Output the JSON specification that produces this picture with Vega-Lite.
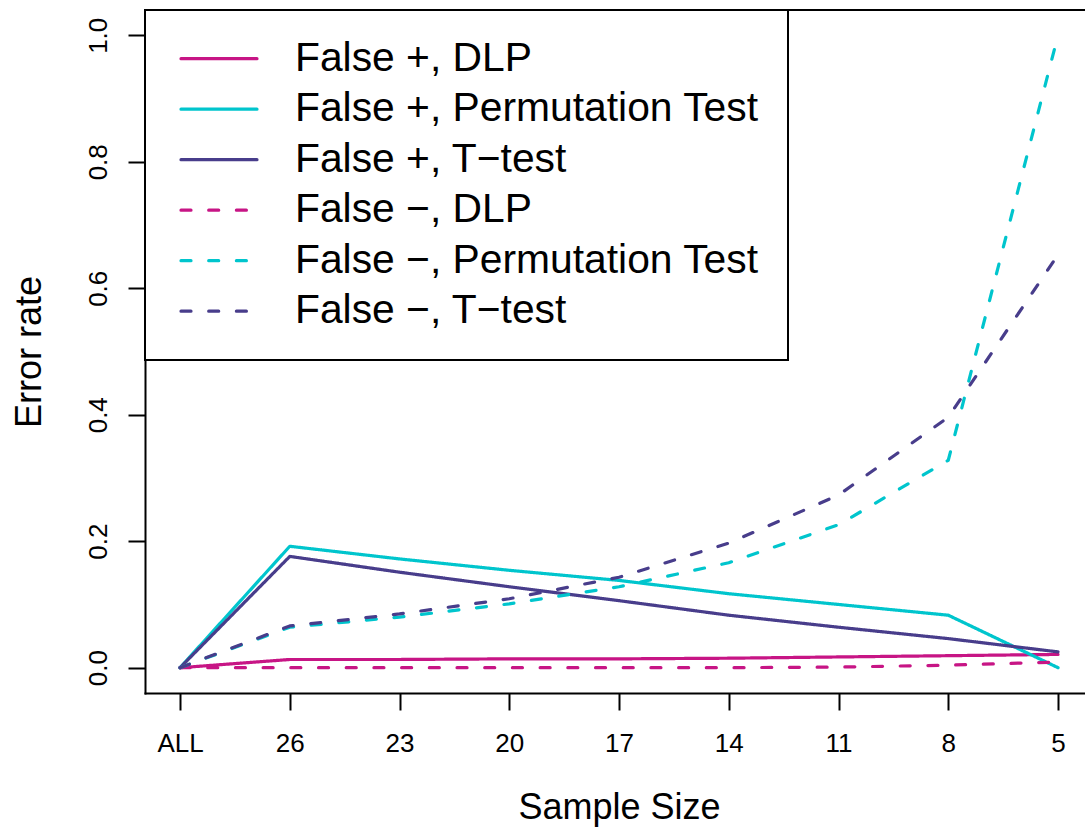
{
  "$schema": "https://vega.github.io/schema/vega-lite/v6.json",
  "width": 940,
  "height": 683,
  "autosize": {"type": "none"},
  "padding": {"left": 145, "top": 10, "right": 0, "bottom": 136},
  "background": "white",
  "config": {"view": {"stroke": null}, "font": "Liberation Sans"},
  "data": {
    "values": [
      {"size": "ALL", "series": "False +, DLP", "rate": 0},
      {"size": "26", "series": "False +, DLP", "rate": 0.013},
      {"size": "23", "series": "False +, DLP", "rate": 0.013},
      {"size": "20", "series": "False +, DLP", "rate": 0.014},
      {"size": "17", "series": "False +, DLP", "rate": 0.014},
      {"size": "14", "series": "False +, DLP", "rate": 0.015},
      {"size": "11", "series": "False +, DLP", "rate": 0.017},
      {"size": "8", "series": "False +, DLP", "rate": 0.019},
      {"size": "5", "series": "False +, DLP", "rate": 0.021},
      {"size": "ALL", "series": "False +, Permutation Test", "rate": 0},
      {"size": "26", "series": "False +, Permutation Test", "rate": 0.192},
      {"size": "23", "series": "False +, Permutation Test", "rate": 0.172},
      {"size": "20", "series": "False +, Permutation Test", "rate": 0.154},
      {"size": "17", "series": "False +, Permutation Test", "rate": 0.138},
      {"size": "14", "series": "False +, Permutation Test", "rate": 0.117},
      {"size": "11", "series": "False +, Permutation Test", "rate": 0.1},
      {"size": "8", "series": "False +, Permutation Test", "rate": 0.083},
      {"size": "5", "series": "False +, Permutation Test", "rate": 0},
      {"size": "ALL", "series": "False +, T−test", "rate": 0},
      {"size": "26", "series": "False +, T−test", "rate": 0.176},
      {"size": "23", "series": "False +, T−test", "rate": 0.151},
      {"size": "20", "series": "False +, T−test", "rate": 0.128},
      {"size": "17", "series": "False +, T−test", "rate": 0.106},
      {"size": "14", "series": "False +, T−test", "rate": 0.083},
      {"size": "11", "series": "False +, T−test", "rate": 0.064},
      {"size": "8", "series": "False +, T−test", "rate": 0.046},
      {"size": "5", "series": "False +, T−test", "rate": 0.025},
      {"size": "ALL", "series": "False −, DLP", "rate": 0},
      {"size": "26", "series": "False −, DLP", "rate": 0},
      {"size": "23", "series": "False −, DLP", "rate": 0},
      {"size": "20", "series": "False −, DLP", "rate": 0},
      {"size": "17", "series": "False −, DLP", "rate": 0},
      {"size": "14", "series": "False −, DLP", "rate": 0},
      {"size": "11", "series": "False −, DLP", "rate": 0.001},
      {"size": "8", "series": "False −, DLP", "rate": 0.004},
      {"size": "5", "series": "False −, DLP", "rate": 0.009},
      {"size": "ALL", "series": "False −, Permutation Test", "rate": 0},
      {"size": "26", "series": "False −, Permutation Test", "rate": 0.064},
      {"size": "23", "series": "False −, Permutation Test", "rate": 0.08},
      {"size": "20", "series": "False −, Permutation Test", "rate": 0.101},
      {"size": "17", "series": "False −, Permutation Test", "rate": 0.128},
      {"size": "14", "series": "False −, Permutation Test", "rate": 0.166},
      {"size": "11", "series": "False −, Permutation Test", "rate": 0.226},
      {"size": "8", "series": "False −, Permutation Test", "rate": 0.328},
      {"size": "5", "series": "False −, Permutation Test", "rate": 1.0},
      {"size": "ALL", "series": "False −, T−test", "rate": 0},
      {"size": "26", "series": "False −, T−test", "rate": 0.066},
      {"size": "23", "series": "False −, T−test", "rate": 0.085},
      {"size": "20", "series": "False −, T−test", "rate": 0.109},
      {"size": "17", "series": "False −, T−test", "rate": 0.143},
      {"size": "14", "series": "False −, T−test", "rate": 0.197},
      {"size": "11", "series": "False −, T−test", "rate": 0.273},
      {"size": "8", "series": "False −, T−test", "rate": 0.396},
      {"size": "5", "series": "False −, T−test", "rate": 0.653}
    ]
  },
  "layer": [
    {
      "data": {"values": [{}]},
      "mark": {"type": "rule", "color": "black", "strokeWidth": 2, "strokeCap": "square"},
      "encoding": {
        "y": {"datum": 1.04, "type": "quantitative", "scale": {"domain": [-0.04, 1.04], "nice": false, "zero": false}}
      }
    },
    {
      "mark": {"type": "line", "strokeWidth": 3.2, "strokeCap": "round", "strokeJoin": "round"},
      "encoding": {
        "x": {
          "field": "size",
          "type": "ordinal",
          "scale": {"type": "point", "domain": ["ALL", "26", "23", "20", "17", "14", "11", "8", "5"], "padding": 0.2825, "align": 0.565},
          "axis": {
            "title": "Sample Size",
            "grid": false,
            "domain": true, "domainColor": "black", "domainWidth": 2, "domainCap": "square",
            "ticks": true, "tickColor": "black", "tickWidth": 2, "tickSize": 17,
            "labelFont": "Liberation Sans", "labelFontSize": 26, "labelColor": "black",
            "labelAngle": 0, "labelAlign": "center", "labelBaseline": "alphabetic", "labelPadding": 41.5,
            "labelOverlap": false, "labelFlush": false,
            "titleFont": "Liberation Sans", "titleFontSize": 36, "titleFontWeight": "normal", "titleColor": "black",
            "titleAlign": "center", "titleBaseline": "alphabetic", "titleX": 474, "titleY": 125
          }
        },
        "y": {
          "field": "rate",
          "type": "quantitative",
          "scale": {"domain": [-0.04, 1.04], "nice": false, "zero": false},
          "axis": {
            "title": "Error rate",
            "values": [0, 0.2, 0.4, 0.6, 0.8, 1],
            "format": ".1f",
            "grid": false,
            "domain": true, "domainColor": "black", "domainWidth": 2, "domainCap": "square",
            "ticks": true, "tickColor": "black", "tickWidth": 2, "tickSize": 17,
            "labelFont": "Liberation Sans", "labelFontSize": 26, "labelColor": "black",
            "labelAngle": 270, "labelAlign": "center", "labelBaseline": "alphabetic", "labelPadding": 22,
            "labelOverlap": false, "labelFlush": false,
            "titleFont": "Liberation Sans", "titleFontSize": 36, "titleFontWeight": "normal", "titleColor": "black",
            "titleAngle": 270, "titleAlign": "center", "titleBaseline": "alphabetic", "titleX": -105, "titleY": 341.5
          }
        },
        "color": {
          "field": "series",
          "type": "nominal",
          "scale": {
            "domain": ["False +, DLP", "False +, Permutation Test", "False +, T−test", "False −, DLP", "False −, Permutation Test", "False −, T−test"],
            "range": ["#C71585", "#00C5CD", "#483D8B", "#C71585", "#00C5CD", "#483D8B"]
          },
          "legend": {
            "title": null, "orient": "top-left", "offset": 0, "padding": 28.3,
            "strokeColor": "black", "fillColor": "white",
            "symbolType": "M-1.27,0H6.33", "symbolSize": 400, "symbolStrokeWidth": 3.2,
            "labelFont": "Liberation Sans", "labelFontSize": 40.8, "labelColor": "black",
            "labelOffset": 80.9, "labelLimit": 700, "rowPadding": 8.5,
            "encode": {
              "legend": {"update": {"strokeWidth": {"value": 2}}},
              "symbols": {"update": {"strokeCap": {"value": "round"}}}
            }
          }
        },
        "strokeDash": {
          "field": "series",
          "type": "nominal",
          "scale": {
            "domain": ["False +, DLP", "False +, Permutation Test", "False +, T−test", "False −, DLP", "False −, Permutation Test", "False −, T−test"],
            "range": [[1, 0], [1, 0], [1, 0], [10, 17.7], [10, 17.7], [10, 17.7]]
          },
          "legend": {
            "title": null, "orient": "top-left", "offset": 0, "padding": 28.3,
            "strokeColor": "black", "fillColor": "white",
            "symbolType": "M-1.27,0H6.33", "symbolSize": 400, "symbolStrokeWidth": 3.2,
            "labelFont": "Liberation Sans", "labelFontSize": 40.8, "labelColor": "black",
            "labelOffset": 80.9, "labelLimit": 700, "rowPadding": 8.5,
            "encode": {
              "legend": {"update": {"strokeWidth": {"value": 2}}},
              "symbols": {"update": {"strokeCap": {"value": "round"}}}
            }
          }
        },
        "order": {"value": null}
      }
    }
  ]
}
